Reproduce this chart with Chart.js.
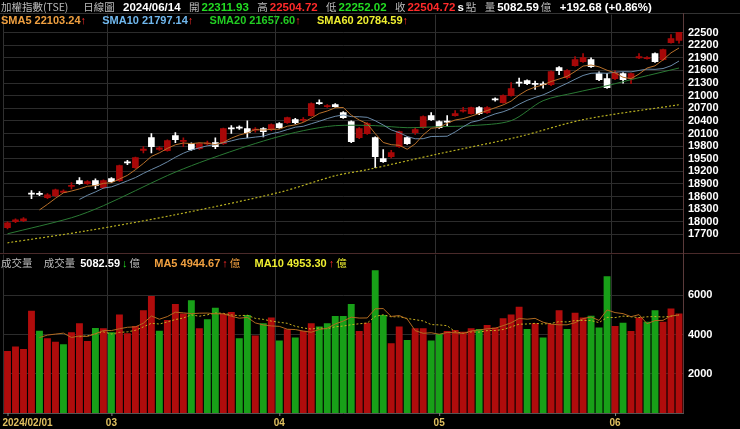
<!DOCTYPE html>
<html lang="zh-Hant">
<head>
<meta charset="UTF-8" />
<title>加權指數(TSE) 日線圖</title>
<style>
  body { margin: 0; background: #000; width: 740px; height: 429px; overflow: hidden; position: relative;
         font-family: 'Liberation Sans', Arial, sans-serif; font-weight: bold; font-size: 11.5px; color: #ddd; }
  .row { position: absolute; left: 1px; white-space: nowrap; line-height: 13px; z-index: 2; }
  .row span { margin-right: 2px; }
  .lbl { color: #bbb; font-weight: normal; font-family: 'Noto Sans CJK TC', sans-serif; font-size: 10.5px; }
  .w { color: #fff; } .g { color: #22dd22; } .r { color: #ff2a2a; } .o { color: #f0a040; }
  .b { color: #70b8ee; } .gg { color: #22cc22; } .y { color: #eeee30; }
  #top { position: absolute; left: 0; top: 3px; }
  #vol { position: absolute; left: 0; top: 243px; }
  .hline { position: absolute; left: 0; width: 740px; height: 1px; background: #333; }
  .vline { position: absolute; left: 683px; top: 13px; width: 1px; height: 400px; background: #5a3a3a; z-index: 3; }
</style>
</head>
<body>
  <div class="row" style="top:0px">
    <span class="lbl">加權指數(TSE)</span>&nbsp;&nbsp;&nbsp;&nbsp;<span class="lbl">日線圖</span>&nbsp;
    <span class="w">2024/06/14</span>&nbsp;
    <span class="lbl">開</span><span class="g">22311.93</span>&nbsp;
    <span class="lbl">高</span><span class="r">22504.72</span>&nbsp;
    <span class="lbl">低</span><span class="g">22252.02</span>&nbsp;
    <span class="lbl">收</span><span class="r">22504.72</span><span class="w">s</span><span class="lbl">點</span>&nbsp;
    <span class="lbl">量</span><span class="w">5082.59</span><span class="lbl">億</span>&nbsp;
    <span class="w">+192.68 (+0.86%)</span>
  </div>
  <div class="row" style="top:14px;font-size:11px">
    <span class="o">SMA5 22103.24<span class="r">↑</span></span>&nbsp;&nbsp;&nbsp;
    <span class="b">SMA10 21797.14<span class="r">↑</span></span>&nbsp;&nbsp;&nbsp;
    <span class="gg">SMA20 21657.60<span class="r">↑</span></span>&nbsp;&nbsp;&nbsp;
    <span class="y">SMA60 20784.59<span class="r">↑</span></span>
  </div>
  <div class="hline" style="top:13px"></div>
  <div class="hline" style="top:253px;background:#4a2a2a"></div>
  <div class="vline"></div>
  <canvas id="top" width="740" height="262"></canvas>
  <canvas id="vol" width="740" height="186"></canvas>
  <div class="row" style="top:256px;font-size:11px">
    <span class="lbl">成交量</span>&nbsp;&nbsp;&nbsp;<span class="lbl">成交量</span>
    <span class="w">5082.59</span><span class="g">↓</span><span class="lbl">億</span>&nbsp;&nbsp;&nbsp;
    <span class="o">MA5 4944.67</span><span class="r">↑</span><span class="lbl" style="color:#f0a040">億</span>&nbsp;&nbsp;&nbsp;
    <span class="y">MA10 4953.30</span><span class="r">↑</span><span class="lbl" style="color:#eeee30">億</span>
  </div>

<script src="https://cdn.jsdelivr.net/npm/chart.js"></script>
<script>
// daily candles, 2024/02/01 - 2024/06/14
const opens  = [17859,18002,18025,18680,18675,18573,18621,18700,18840,18978,18906,18978,18811,19025,18978,19420,19287,19700,20001,19720,
                19692,20049,19910,19858,19739,19850,19882,19858,20230,20250,20215,20180,20215,20191,20334,20358,20429,20410,20525,20834,
                20739,20786,20596,20382,20001,20096,20001,19501,19549,19787,20001,20120,20239,20525,20382,20390,20525,20630,20572,20715,
                20596,20920,20834,21001,21320,21358,21290,21280,21262,21667,21429,21714,21810,21857,21524,21405,21405,21524,21405,21900,
                21880,21999,21857,22262,22311.93];
const highs  = [18000,18070,18100,18740,18720,18670,18780,18760,18930,19050,18980,19020,19000,19050,19350,19460,19540,19790,20100,19790,
                19950,20120,20000,19880,19880,19920,20000,20230,20290,20280,20400,20240,20240,20330,20360,20490,20460,20480,20830,20900,
                20790,20810,20620,20400,20240,20360,20020,19715,19700,20160,20020,20250,20520,20596,20400,20525,20644,20720,20730,20740,
                20740,20950,21020,21310,21420,21380,21350,21330,21590,21690,21620,21930,22000,21900,21570,21530,21600,21550,21540,22000,
                21930,22020,22110,22452,22504.72];
const lows   = [17830,17980,18000,18550,18620,18550,18600,18690,18780,18890,18890,18790,18790,18930,18960,19360,19270,19640,19640,19700,
                19680,19880,19790,19700,19720,19820,19740,19840,20100,20200,20000,20130,20020,20170,20220,20340,20330,20380,20510,20790,
                20720,20720,20460,19880,19980,20080,19287,19410,19520,19770,19840,20080,20220,20410,20220,20287,20510,20610,20560,20550,
                20580,20870,20820,20990,21220,21260,21150,21180,21240,21500,21400,21700,21790,21670,21360,21170,21380,21300,21286,21880,
                21870,21790,21840,22250,22252.02];
const closes = [17978,18049,18073,18660,18650,18644,18763,18730,18870,18906,18954,18859,18978,18954,19335,19400,19525,19730,19787,19760,
                19930,19953,19940,19715,19858,19880,19787,20215,20210,20230,20120,20200,20144,20310,20239,20477,20358,20440,20810,20810,
                20763,20739,20477,19906,20215,20334,19549,19430,19644,20144,19858,20191,20501,20429,20239,20370,20572,20660,20715,20572,
                20715,20900,21001,21167,21300,21286,21270,21260,21572,21596,21596,21857,21905,21691,21381,21191,21548,21381,21524,21930,
                21905,21810,22095,22357,22504.72];
// 成交量 (億)
const volumes = [3170,3390,3270,5220,4200,3810,3640,3510,4120,4580,3680,4340,4320,4120,5030,4070,4440,5250,5970,4200,
                 4750,5560,5080,5760,4320,4780,5370,5080,5150,3810,5000,3950,4580,4880,3700,4270,3860,4200,4580,4410,
                 4580,4950,4950,5560,4190,4610,7290,5000,3560,4410,3730,4320,4320,3700,4030,4190,4240,4150,4320,4290,
                 4490,4370,4830,5030,5420,4290,4580,3850,4540,5250,4290,5120,4880,4970,4360,6980,4440,4610,4190,4880,
                 4660,5250,4660,5340,5083];
// 1 = red (up), 0 = green (down)
const volUp = [1,1,1,1,0,1,1,0,1,1,1,0,1,0,1,1,1,1,1,0,
               1,1,1,0,1,0,0,1,1,0,0,1,0,1,0,1,0,1,1,0,
               0,0,0,0,1,1,0,0,1,1,0,1,1,0,0,1,1,1,1,0,
               1,1,1,1,1,0,1,0,1,1,0,1,1,0,0,0,1,0,1,1,
               0,0,1,1,1];
// SMA20 / SMA60 at sample days
const sma20Idx = [0,8,12,20,24,29,33,37,41,46,50,54,58,63,67,71,75,79,84];
const sma20Val = [17714,18096,18383,19100,19406,19739,19977,20168,20287,20287,20239,20263,20287,20406,20881,21072,21238,21429,21658];
const sma60Idx = [0,10,21,34,41,45,54,64,72,84];
const sma60Val = [17500,17788,18168,18700,19096,19240,19620,20025,20430,20785];
const monthStarts = [0,13,34,54,76];
const monthLabels = ['2024/02/01','03','04','05','06'];
const priceTicks = [17700,18000,18300,18600,18900,19200,19500,19800,20100,20400,20700,21000,21300,21600,21900,22200,22500];
const volTicks = [2000,4000,6000];

const labels = closes.map((_, i) => i);
function sma(arr, n) {
  return arr.map((_, i) => i < n - 1 ? null : arr.slice(i - n + 1, i + 1).reduce((a, b) => a + b, 0) / n);
}
function sparse(idx, val) {
  const out = labels.map(() => null);
  idx.forEach((k, j) => out[k] = val[j]);
  return out;
}
const upCol = '#a80808', dnCol = '#ffffff';
const candleCol = closes.map((c, i) => c >= opens[i] ? upCol : dnCol);

Chart.defaults.font.family = "'Liberation Sans', Arial, sans-serif";
Chart.defaults.font.weight = 'bold';
Chart.defaults.font.size = 11;
Chart.defaults.animation = false;

const xGrid = {
  color: ctx => monthStarts.includes(ctx.index) ? '#303030' : 'rgba(0,0,0,0)',
  drawTicks: false
};
function fixWidth(scale) { scale.width = 57; }
function noHeight(scale) { scale.height = 0; }
const yTicks = { color: '#fff', padding: 5, autoSkip: false, callback: v => String(v) };

new Chart(document.getElementById('top'), {
  data: {
    labels,
    datasets: [
      { type: 'line', data: sma(closes, 5), borderColor: '#b8702a', borderWidth: 1, pointRadius: 0 },
      { type: 'line', data: sma(closes, 10), borderColor: '#6a8aa8', borderWidth: 1, pointRadius: 0 },
      { type: 'line', data: sparse(sma20Idx, sma20Val), borderColor: '#2a7a34', borderWidth: 1, pointRadius: 0, spanGaps: true, tension: 0.3 },
      { type: 'line', data: sparse(sma60Idx, sma60Val), borderColor: '#b8b020', borderWidth: 1.2, borderDash: [2, 2], pointRadius: 0, spanGaps: true, tension: 0.3 },
      { type: 'bar', data: lows.map((l, i) => [l, highs[i]]), backgroundColor: candleCol, barThickness: 1, grouped: false },
      { type: 'bar', data: opens.map((o, i) => [o, closes[i]]), backgroundColor: candleCol, barThickness: 6, minBarLength: 1, grouped: false }
    ]
  },
  options: {
    responsive: false,
    layout: { padding: { left: 3.5, top: 0, bottom: 0 } },
    plugins: { legend: { display: false }, tooltip: { enabled: false } },
    scales: {
      x: { offset: true, grid: xGrid, ticks: { display: false }, border: { display: false }, afterFit: noHeight },
      y: {
        position: 'right', min: 17248, max: 22929,
        afterBuildTicks: s => { s.ticks = priceTicks.map(v => ({ value: v })); },
        afterFit: fixWidth,
        grid: { color: '#2c2c2c', drawTicks: false },
        border: { display: false },
        ticks: yTicks
      }
    }
  }
});

const monthLabelPlugin = {
  id: 'monthLabels',
  afterDraw(chart) {
    const { ctx, scales: { x } } = chart;
    ctx.save();
    ctx.font = "bold 10px 'Liberation Sans', Arial, sans-serif";
    ctx.textBaseline = 'top';
    monthStarts.forEach((k, j) => {
      const px = x.getPixelForValue(k);
      ctx.fillStyle = '#888';
      ctx.fillRect(px, chart.chartArea.bottom, 1, 3);
      ctx.fillStyle = '#e0c060';
      ctx.textAlign = j === 0 ? 'left' : 'center';
      ctx.fillText(monthLabels[j], j === 0 ? px - 5 : px, chart.chartArea.bottom + 5);
    });
    ctx.restore();
  }
};

new Chart(document.getElementById('vol'), {
  data: {
    labels,
    datasets: [
      { type: 'line', data: sma(volumes, 5), borderColor: '#b06a20', borderWidth: 1, pointRadius: 0 },
      { type: 'line', data: sma(volumes, 10), borderColor: '#c8b020', borderWidth: 1, borderDash: [2, 2], pointRadius: 0 },
      { type: 'bar', data: volumes, backgroundColor: volUp.map(u => u ? '#b00c0c' : '#18a018'),
        categoryPercentage: 1, barPercentage: 0.86 }
    ]
  },
  plugins: [monthLabelPlugin],
  options: {
    responsive: false,
    layout: { padding: { left: 3.5, top: 0, bottom: 16 } },
    plugins: { legend: { display: false }, tooltip: { enabled: false } },
    scales: {
      x: { offset: true, grid: xGrid, ticks: { display: false }, border: { color: '#555' }, afterFit: noHeight },
      y: {
        position: 'right', min: 0, max: 8085,
        afterBuildTicks: s => { s.ticks = volTicks.map(v => ({ value: v })); },
        afterFit: fixWidth,
        grid: { color: '#2c2c2c', drawTicks: false },
        border: { display: false },
        ticks: yTicks
      }
    }
  }
});
</script>
</body>
</html>
